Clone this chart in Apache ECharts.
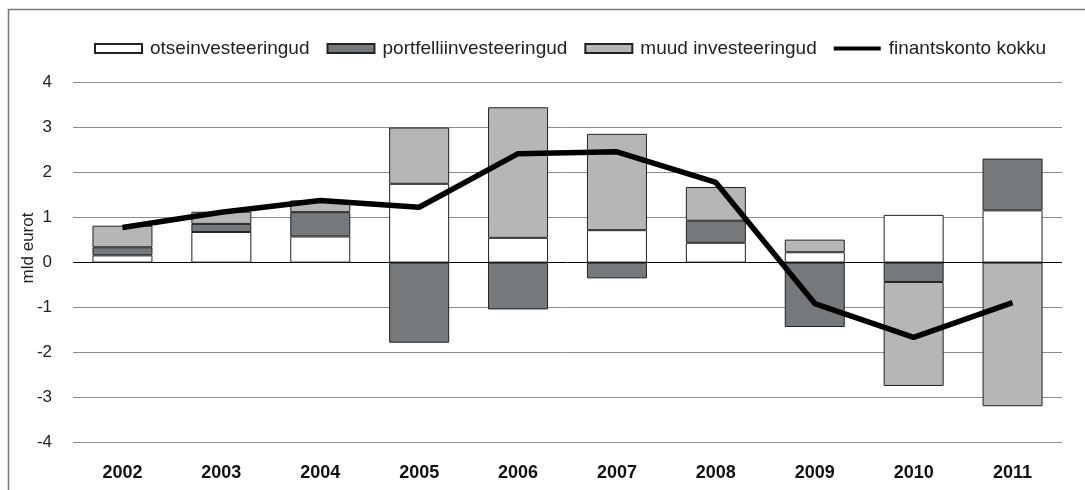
<!DOCTYPE html>
<html>
<head>
<meta charset="utf-8">
<script src="https://cdn.jsdelivr.net/npm/echarts@6/dist/echarts.min.js"></script>
<style>
  html, body { margin: 0; padding: 0; background: #fff; }
  #chart { width: 1085px; height: 490px; }
</style>
</head>
<body>
<div id="chart"></div>
<script>
const years = ['2002', '2003', '2004', '2005', '2006', '2007', '2008', '2009', '2010', '2011'];
const otseinvesteeringud = [0.16, 0.68, 0.58, 1.75, 0.55, 0.72, 0.44, 0.23, 1.06, 1.16];
const portfelliinvesteeringud = [0.18, 0.18, 0.54, -1.78, -1.04, -0.35, 0.49, -1.43, -0.43, 1.15];
const muudInvesteeringud = [0.48, 0.27, 0.26, 1.25, 2.90, 2.14, 0.75, 0.28, -2.31, -3.19];
const finantskontoKokku = [0.78, 1.12, 1.38, 1.23, 2.42, 2.46, 1.78, -0.91, -1.66, -0.89];

const font = '"Liberation Sans", Arial, sans-serif';

const myChart = echarts.init(document.getElementById('chart'));

// zero line black, the rest grey
const gridColors = ['#8c8c8c', '#8c8c8c', '#8c8c8c', '#8c8c8c', '#000', '#8c8c8c', '#8c8c8c', '#8c8c8c', '#8c8c8c'];

const barSeries = (name, data, color) => ({
  name: name,
  type: 'bar',
  stack: 'total',
  barWidth: 60,
  data: data,
  itemStyle: { color: color, borderColor: '#222', borderWidth: 1 },
  emphasis: { disabled: true },
});

const option = {
  animation: false,
  textStyle: { fontFamily: font },
  graphic: [
    {
      // picture frame (only top and left edges are visible)
      type: 'rect',
      shape: { x: 8.5, y: 9.5, width: 1200, height: 600 },
      style: { fill: 'none', stroke: '#777', lineWidth: 1.5 },
    },
    {
      type: 'text',
      x: 28,
      y: 248,
      rotation: Math.PI / 2,
      style: {
        text: 'mld eurot',
        font: '17px ' + font,
        fill: '#222',
        textAlign: 'center',
        textVerticalAlign: 'middle',
      },
    },
  ],
  legend: {
    left: 89,
    top: 34,
    itemWidth: 47,
    itemHeight: 9,
    itemGap: 17,
    textStyle: { fontSize: 19, color: '#222', padding: [0, 0, 0, 3] },
    data: [
      { name: 'otseinvesteeringud', icon: 'rect' },
      { name: 'portfelliinvesteeringud', icon: 'rect' },
      { name: 'muud investeeringud', icon: 'rect' },
      { name: 'finantskonto kokku', icon: 'path://M0,0 H47 V4 H0 Z', itemStyle: { color: '#000', borderWidth: 0 } },
    ],
  },
  grid: {
    left: 73,
    right: 23,
    top: 82.5,
    bottom: 47.3,
  },
  xAxis: {
    type: 'category',
    data: years,
    axisLine: { show: false },
    axisTick: { show: false },
    axisLabel: { fontSize: 18, fontWeight: 'bold', color: '#111', margin: 21 },
  },
  yAxis: {
    type: 'value',
    min: -4,
    max: 4,
    interval: 1,
    axisLine: { show: false },
    axisTick: { show: false },
    axisLabel: { fontSize: 17, color: '#222', margin: 21 },
    splitLine: { lineStyle: { color: gridColors, width: 1 } },
  },
  series: [
    barSeries('otseinvesteeringud', otseinvesteeringud, '#fff'),
    barSeries('portfelliinvesteeringud', portfelliinvesteeringud, '#76797b'),
    barSeries('muud investeeringud', muudInvesteeringud, '#b5b6b5'),
    {
      name: 'finantskonto kokku',
      type: 'line',
      data: finantskontoKokku,
      symbol: 'none',
      z: 5,
      lineStyle: { color: '#000', width: 5.5 },
      itemStyle: { color: '#000' },
      emphasis: { disabled: true },
    },
  ],
};

myChart.setOption(option);
window.addEventListener('resize', () => myChart.resize());
</script>
</body>
</html>
